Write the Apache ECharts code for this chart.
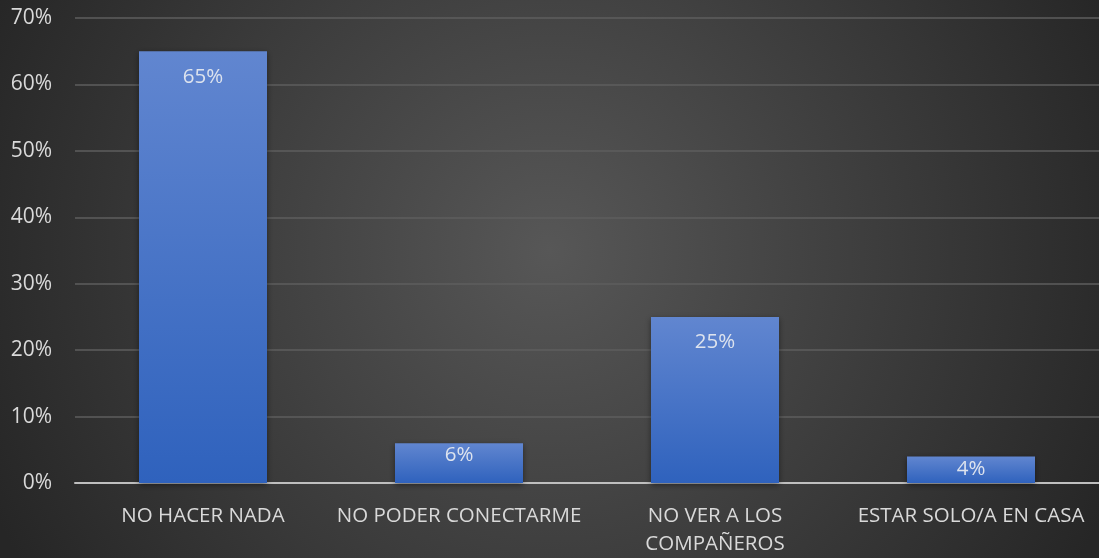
<!DOCTYPE html>
<html><head><meta charset="utf-8">
<script src="https://cdn.jsdelivr.net/npm/echarts@6/dist/echarts.min.js"></script>
<style>html,body{margin:0;padding:0;background:#333;}#c{width:1099px;height:558px;}</style>
</head><body><div id="c"></div>
<script>
const categories = ['NO HACER NADA', 'NO PODER CONECTARME', 'NO VER A LOS\nCOMPAÑEROS', 'ESTAR SOLO/A EN CASA'];
const values = [65, 6, 25, 4];
const yTicks = [0, 10, 20, 30, 40, 50, 60, 70];

const chart = echarts.init(document.getElementById('c'));
const font = '"Open Sans", "Noto Sans", sans-serif';
chart.setOption({
  backgroundColor: {
    type: 'radial', x: 0.5, y: 0.45, r: 1.1,
    colorStops: [{offset: 0, color: '#575757'}, {offset: 1, color: '#262626'}]
  },
  grid: {left: 75, right: 0, top: 18, bottom: 74},
  xAxis: {
    type: 'category', data: categories,
    axisLine: {lineStyle: {color: '#bfbfbf', width: 2}},
    axisTick: {show: false},
    axisLabel: {color: '#d9d9d9', fontSize: 20.5, fontFamily: font, margin: 19, lineHeight: 28, interval: 0}
  },
  yAxis: {
    type: 'value', min: yTicks[0], max: yTicks[yTicks.length - 1], interval: 10,
    axisLine: {show: false}, axisTick: {show: false},
    axisLabel: {color: '#d9d9d9', fontSize: 21, fontFamily: font, margin: 23, formatter: v => v + '%'},
    splitLine: {lineStyle: {color: '#5e5e5e', width: 1.5}}
  },
  series: [{
    type: 'bar', barWidth: '50%',
    data: values.map(v => ({
      value: v,
      label: v < 10 ? {position: 'insideTop', distance: 2} : {position: 'insideTop', distance: 15}
    })),
    itemStyle: {
      color: {type: 'linear', x: 0, y: 0, x2: 0, y2: 1,
        colorStops: [{offset: 0, color: '#6186d0'}, {offset: 1, color: '#2f62bd'}]},
      shadowColor: 'rgba(0,0,0,0.45)', shadowBlur: 6, shadowOffsetY: 2
    },
    label: {show: true, color: '#dde3ee', fontSize: 20.5, fontFamily: font, formatter: p => p.value + '%'}
  }]
});
</script></body></html>
